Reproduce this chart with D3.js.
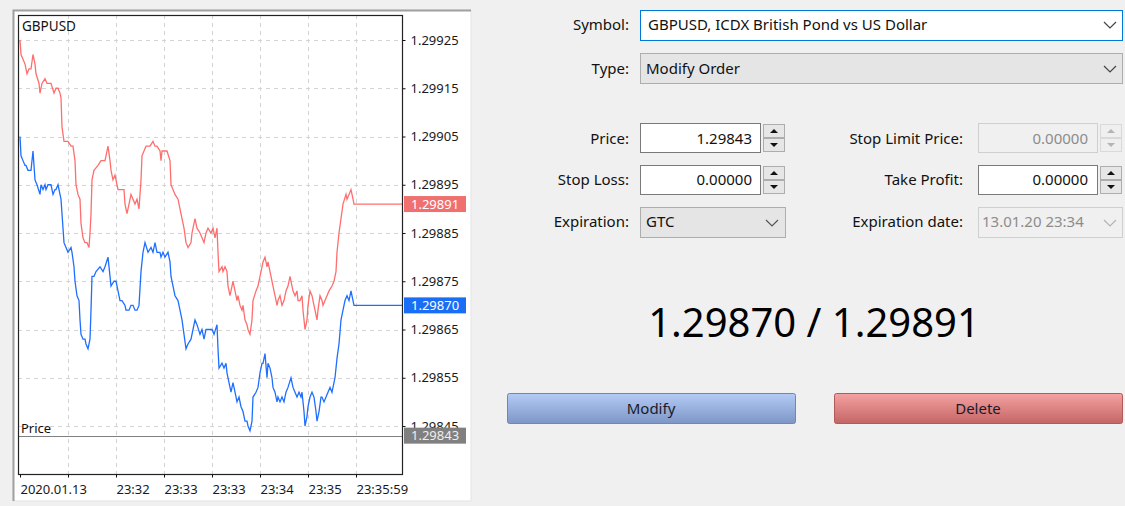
<!DOCTYPE html>
<html>
<head>
<meta charset="utf-8">
<script src="https://cdn.jsdelivr.net/npm/d3@7"></script>
<style>
  body { margin: 0; background: #f0f0f0; }
  svg { display: block; font-family: 'Noto Sans', sans-serif; }
</style>
</head>
<body>
<svg id="drawing_region"></svg>
<script>
// ask ticks (red) : [tick index, price]
const askTicks = [
  [0,1.29925],[1,1.29922],[3,1.29921],[5,1.29920],[7,1.29918],[9,1.29919],[11,1.29919],[13,1.29922],[15,1.29920],[16,1.29918],
  [19,1.29916],[20,1.29914],[22,1.29916],[25,1.29917],[27,1.29916],[30,1.29916],[31,1.29916],[34,1.29914],[36,1.29915],[38,1.29915],
  [40,1.29914],[41,1.29913],[42,1.29907],[44,1.29904],[48,1.29904],[51,1.29903],[53,1.29903],[55,1.29900],[56,1.29895],[58,1.29893],
  [60,1.29892],[61,1.29887],[63,1.29884],[65,1.29883],[67,1.29883],[69,1.29882],[70,1.29885],[71,1.29889],[72,1.29896],[74,1.29898],
  [78,1.29899],[81,1.29900],[85,1.29900],[86,1.29901],[88,1.29903],[90,1.29900],[91,1.29898],[93,1.29896],[95,1.29897],[96,1.29896],
  [98,1.29894],[101,1.29894],[104,1.29894],[105,1.29891],[107,1.29889],[109,1.29891],[111,1.29893],[113,1.29892],[115,1.29891],[117,1.29892],
  [119,1.29890],[121,1.29896],[122,1.29901],[124,1.29902],[126,1.29903],[130,1.29903],[133,1.29904],[135,1.29903],[137,1.29903],[140,1.29902],
  [141,1.29900],[142,1.29902],[145,1.29902],[147,1.29902],[150,1.29900],[151,1.29895],[153,1.29894],[155,1.29893],[158,1.29892],[160,1.29890],
  [162,1.29888],[164,1.29886],[166,1.29883],[168,1.29882],[171,1.29883],[172,1.29885],[175,1.29888],[177,1.29886],[180,1.29885],[182,1.29884],
  [184,1.29883],[186,1.29885],[188,1.29886],[191,1.29885],[193,1.29886],[195,1.29884],[197,1.29886],[198,1.29881],[199,1.29877],[202,1.29878],
  [203,1.29877],[205,1.29878],[207,1.29877],[208,1.29874],[210,1.29872],[212,1.29874],[213,1.29875],[215,1.29873],[217,1.29871],[218,1.29872],
  [220,1.29870],[222,1.29869],[223,1.29870],[225,1.29867],[227,1.29866],[228,1.29865],[230,1.29864],[232,1.29867],[233,1.29871],[236,1.29873],
  [238,1.29874],[240,1.29876],[242,1.29878],[243,1.29879],[245,1.29880],[247,1.29878],[248,1.29879],[250,1.29877],[252,1.29875],[253,1.29874],
  [255,1.29872],[257,1.29870],[258,1.29871],[260,1.29872],[262,1.29870],[264,1.29871],[266,1.29873],[268,1.29874],[270,1.29876],[272,1.29874],
  [273,1.29873],[275,1.29872],[277,1.29873],[278,1.29871],[280,1.29871],[282,1.29872],[283,1.29869],[285,1.29865],[287,1.29867],[288,1.29870],
  [290,1.29873],[292,1.29872],[293,1.29871],[295,1.29869],[297,1.29867],[298,1.29869],[300,1.29872],[302,1.29871],[303,1.29870],[305,1.29871],
  [307,1.29872],[309,1.29873],[312,1.29874],[314,1.29875],[316,1.29877],[317,1.29881],[319,1.29885],[321,1.29888],[323,1.29891],[326,1.29893],
  [327,1.29892],[329,1.29893],[331,1.29894],[333,1.29892],[334,1.29891],[382,1.29891]
];

// bid ticks (blue) : [tick index, price]
const bidTicks = [
  [0,1.29905],[1,1.29901],[3,1.29900],[5,1.29899],[6,1.29899],[8,1.29898],[10,1.29898],[11,1.29898],[13,1.29902],[14,1.29899],
  [15,1.29896],[17,1.29895],[20,1.29893],[21,1.29895],[23,1.29894],[25,1.29895],[26,1.29894],[28,1.29895],[30,1.29895],[31,1.29895],
  [33,1.29893],[35,1.29894],[36,1.29894],[38,1.29895],[40,1.29893],[41,1.29892],[43,1.29886],[44,1.29883],[46,1.29882],[48,1.29881],
  [51,1.29882],[52,1.29881],[54,1.29878],[55,1.29875],[57,1.29872],[59,1.29871],[60,1.29867],[61,1.29864],[63,1.29863],[65,1.29863],
  [66,1.29862],[68,1.29861],[70,1.29863],[71,1.29869],[72,1.29876],[74,1.29876],[76,1.29877],[80,1.29878],[83,1.29877],[85,1.29878],
  [88,1.29880],[90,1.29876],[91,1.29874],[94,1.29875],[96,1.29875],[98,1.29873],[100,1.29871],[102,1.29871],[105,1.29870],[106,1.29869],
  [109,1.29869],[111,1.29870],[113,1.29870],[115,1.29869],[117,1.29869],[119,1.29870],[121,1.29877],[123,1.29881],[125,1.29883],[128,1.29881],
  [131,1.29882],[133,1.29881],[135,1.29883],[137,1.29881],[140,1.29881],[141,1.29880],[143,1.29881],[145,1.29880],[148,1.29881],[150,1.29879],
  [151,1.29876],[153,1.29874],[155,1.29872],[158,1.29871],[160,1.29869],[162,1.29867],[164,1.29864],[166,1.29861],[168,1.29862],[171,1.29863],
  [173,1.29865],[175,1.29867],[177,1.29866],[180,1.29864],[182,1.29865],[184,1.29863],[186,1.29865],[188,1.29865],[190,1.29865],[192,1.29865],
  [194,1.29864],[197,1.29866],[198,1.29861],[199,1.29857],[202,1.29858],[204,1.29857],[206,1.29858],[207,1.29856],[209,1.29854],[211,1.29852],
  [213,1.29854],[215,1.29852],[217,1.29850],[219,1.29851],[221,1.29849],[223,1.29848],[225,1.29846],[227,1.29846],[228,1.29845],[230,1.29844],
  [232,1.29846],[233,1.29851],[236,1.29852],[238,1.29853],[240,1.29856],[242,1.29858],[243,1.29858],[245,1.29860],[247,1.29855],[248,1.29858],
  [250,1.29857],[252,1.29855],[253,1.29853],[255,1.29852],[257,1.29850],[258,1.29851],[260,1.29850],[262,1.29851],[264,1.29850],[266,1.29852],
  [268,1.29853],[271,1.29855],[273,1.29853],[275,1.29852],[277,1.29851],[279,1.29852],[281,1.29851],[282,1.29852],[284,1.29848],[285,1.29845],
  [287,1.29847],[288,1.29849],[290,1.29851],[292,1.29852],[294,1.29851],[296,1.29848],[297,1.29846],[299,1.29848],[301,1.29851],[302,1.29851],
  [304,1.29850],[306,1.29851],[308,1.29852],[310,1.29853],[312,1.29852],[313,1.29853],[315,1.29855],[317,1.29859],[319,1.29862],[321,1.29867],
  [323,1.29869],[325,1.29871],[327,1.29872],[329,1.29871],[331,1.29873],[333,1.29871],[334,1.29870],[382,1.29870]
];

const lastAsk = 1.29891;
const lastBid = 1.29870;
const orderPrice = 1.29843;

const priceTicks = [1.29925, 1.29915, 1.29905, 1.29895, 1.29885, 1.29875, 1.29865, 1.29855, 1.29845];
const timeTicks = [0, 48, 96, 144, 192, 240, 288, 336];
const timeLabels = ['2020.01.13', '', '23:32', '23:33', '23:33', '23:34', '23:35', '23:35:59'];

const W = 1125, H = 506;
const svg = d3.select('#drawing_region').attr('width', W).attr('height', H);
svg.append('rect').attr('width', W).attr('height', H).attr('fill', '#f0f0f0');

class TickChart {

    constructor( config ) {
        this.config = config;
        this.init();
    }

    init() {
        let self = this;
        const c = self.config;

        self.g = svg.append('g');

        // chart window
        self.g.append('rect')
            .attr('x', 13).attr('y', 10).attr('width', 458).attr('height', 491)
            .attr('fill', '#fff').attr('stroke', '#e3e3e3');
        self.g.append('path')
            .attr('d', 'M13.5,501V10.5H471')
            .attr('fill', 'none').attr('stroke', '#a0a0a0').attr('stroke-width', 2);

        self.xscale = d3.scaleLinear()
            .domain( [0, 382] )
            .range( [c.left + 2, c.right] );

        self.yscale = d3.scaleLinear()
            .domain( [1.29845, 1.29925] )
            .range( [426, 40] );

        self.clip = self.g.append('clipPath').attr('id', 'plot_clip')
            .append('rect')
            .attr('x', c.left).attr('y', c.top)
            .attr('width', c.right - c.left).attr('height', c.bottom - c.top);
    }

    render() {
        let self = this;
        const c = self.config;
        const fmt = d3.format('.5f');

        // grid
        self.g.append('g').selectAll('line')
            .data(priceTicks)
            .join('line')
            .attr('x1', c.left).attr('x2', c.right)
            .attr('y1', d => Math.round(self.yscale(d)) + 0.5)
            .attr('y2', d => Math.round(self.yscale(d)) + 0.5)
            .attr('stroke', '#d4d4d4').attr('stroke-dasharray', '4,4');

        self.g.append('g').selectAll('line')
            .data(timeTicks.slice(1))
            .join('line')
            .attr('x1', d => Math.round(self.xscale(d)) + 0.5)
            .attr('x2', d => Math.round(self.xscale(d)) + 0.5)
            .attr('y1', c.top).attr('y2', c.bottom)
            .attr('stroke', '#d4d4d4').attr('stroke-dasharray', '4,4');

        // order price line
        const py = Math.round(self.yscale(orderPrice)) + 0.5;
        self.g.append('line')
            .attr('x1', c.left).attr('x2', c.right)
            .attr('y1', py).attr('y2', py)
            .attr('stroke', '#808080');
        self.g.append('text')
            .attr('x', 21).attr('y', py - 4)
            .attr('font-size', 13).attr('fill', '#111')
            .text('Price');

        // ask / bid lines
        const line = d3.line()
            .x( d => self.xscale(d[0]) )
            .y( d => self.yscale(d[1]) );

        const lines = self.g.append('g').attr('clip-path', 'url(#plot_clip)');
        lines.append('path').datum(askTicks)
            .attr('d', line).attr('fill', 'none')
            .attr('stroke', '#ff6e6e').attr('stroke-width', 1.3);
        lines.append('path').datum(bidTicks)
            .attr('d', line).attr('fill', 'none')
            .attr('stroke', '#1f6fff').attr('stroke-width', 1.3);

        // frame
        self.g.append('rect')
            .attr('x', c.left + 0.5).attr('y', c.top + 0.5)
            .attr('width', c.right - c.left).attr('height', c.bottom - c.top)
            .attr('fill', 'none').attr('stroke', '#222').attr('stroke-width', 1.2);

        self.g.append('text')
            .attr('x', 22).attr('y', 31)
            .attr('font-size', 13.5).attr('fill', '#111')
            .text(c.title);

        // axes
        const yaxis = d3.axisRight( self.yscale )
            .tickValues(priceTicks)
            .tickFormat(fmt)
            .tickSize(3)
            .tickPadding(5);

        const xaxis = d3.axisBottom( self.xscale )
            .tickValues(timeTicks)
            .tickFormat( (d, i) => timeLabels[i] )
            .tickSize(3)
            .tickPadding(7);

        const ya = self.g.append('g')
            .attr('transform', `translate(${c.right + 0.5}, 0)`)
            .call(yaxis);
        const xa = self.g.append('g')
            .attr('transform', `translate(0, ${c.bottom + 0.5})`)
            .call(xaxis);

        [ya, xa].forEach(a => {
            a.select('.domain').remove();
            a.attr('font-family', null).attr('font-size', 13);
            a.selectAll('.tick line').attr('stroke', '#111');
            a.selectAll('.tick text').attr('fill', '#1a1a1a');
        });
        xa.selectAll('.tick text').attr('text-anchor', 'start');

        // price tags on the right axis
        const tags = [
            {v: lastAsk, fill: '#f07070', color: '#fff'},
            {v: lastBid, fill: '#1a6ef5', color: '#fff'},
            {v: orderPrice, fill: '#808080', color: '#eee'}
        ];
        const tg = self.g.append('g').selectAll('g')
            .data(tags)
            .join('g')
            .attr('transform', d => `translate(${c.right + 2}, ${self.yscale(d.v)})`);
        tg.append('rect')
            .attr('x', 0).attr('y', -8).attr('width', 62).attr('height', 16)
            .attr('fill', d => d.fill);
        tg.append('text')
            .attr('x', 7).attr('dy', '0.35em')
            .attr('font-size', 13)
            .attr('fill', d => d.color)
            .text(d => fmt(d.v));
    }
}

const chart = new TickChart({ left: 18, top: 15, right: 402, bottom: 474, title: 'GBPUSD' });
chart.render();

// ---- order panel ----
const panel = svg.append('g').attr('font-size', 15);

function box(x, y, w, h, fill, stroke) {
    return panel.append('rect')
        .attr('x', x + 0.5).attr('y', y + 0.5)
        .attr('width', w - 1).attr('height', h - 1)
        .attr('fill', fill).attr('stroke', stroke);
}

function label(text, x, cy, anchor, color) {
    return panel.append('text')
        .attr('x', x).attr('y', cy).attr('dy', '0.36em')
        .attr('text-anchor', anchor || 'end')
        .attr('fill', color || '#111')
        .text(text);
}

function chevron(cx, cy, color) {
    panel.append('path')
        .attr('d', `M${cx - 6},${cy - 3}L${cx},${cy + 3}L${cx + 6},${cy - 3}`)
        .attr('fill', 'none').attr('stroke', color).attr('stroke-width', 1.2);
}

function spinner(x, y, h, enabled) {
    const half = h / 2;
    const col = enabled ? '#111' : '#b4b4b4';
    box(x, y, 22, half, enabled ? '#e6e6e6' : '#efefef', enabled ? '#adadad' : '#d9d9d9');
    box(x, y + half, 22, half, enabled ? '#e6e6e6' : '#efefef', enabled ? '#adadad' : '#d9d9d9');
    const cx = x + 11;
    panel.append('path')
        .attr('d', `M${cx - 4},${y + half / 2 + 2}L${cx},${y + half / 2 - 2}L${cx + 4},${y + half / 2 + 2}Z`)
        .attr('fill', col);
    panel.append('path')
        .attr('d', `M${cx - 4},${y + half * 1.5 - 2}L${cx},${y + half * 1.5 + 2}L${cx + 4},${y + half * 1.5 - 2}Z`)
        .attr('fill', col);
}

// symbol / type combos
label('Symbol:', 629, 25);
box(640, 10, 483, 31, '#fff', '#0078d7');
label('GBPUSD, ICDX British Pond vs US Dollar', 648, 25, 'start');
chevron(1110, 25, '#444');

label('Type:', 629, 69);
box(640, 53, 483, 31, '#e5e5e5', '#adadad');
label('Modify Order', 646, 69, 'start');
chevron(1110, 69, '#444');

// left column
label('Price:', 629, 139);
box(640, 123, 121, 30, '#fff', '#7a7a7a');
label('1.29843', 752, 139);
spinner(763, 124, 28, true);

label('Stop Loss:', 629, 180);
box(640, 165, 121, 30, '#fff', '#7a7a7a');
label('0.00000', 752, 180);
spinner(763, 166, 28, true);

label('Expiration:', 629, 222);
box(640, 207, 146, 31, '#e5e5e5', '#adadad');
label('GTC', 646, 222, 'start');
chevron(772, 223, '#555');

// right column
label('Stop Limit Price:', 963, 139);
box(978, 123, 120, 30, '#f0f0f0', '#cfcfcf');
label('0.00000', 1088, 139, 'end', '#8c8c8c');
spinner(1100, 124, 28, false);

label('Take Profit:', 963, 180);
box(978, 165, 120, 30, '#fff', '#7a7a7a');
label('0.00000', 1088, 180);
spinner(1100, 166, 28, true);

label('Expiration date:', 963, 222);
box(978, 207, 145, 31, '#f0f0f0', '#cfcfcf');
label('13.01.20 23:34', 982, 222, 'start', '#8c8c8c');
chevron(1110, 223, '#b4b4b4');

// bid / ask quote
panel.append('text')
    .attr('x', 814).attr('y', 337)
    .attr('text-anchor', 'middle')
    .attr('font-size', 40).attr('fill', '#000')
    .text(`${d3.format('.5f')(lastBid)} / ${d3.format('.5f')(lastAsk)}`);

// buttons
const defs = svg.append('defs');
function grad(id, top, bottom) {
    const lg = defs.append('linearGradient').attr('id', id)
        .attr('x1', 0).attr('y1', 0).attr('x2', 0).attr('y2', 1);
    lg.append('stop').attr('offset', '0%').attr('stop-color', top);
    lg.append('stop').attr('offset', '100%').attr('stop-color', bottom);
}
grad('g_modify', '#b3cbf4', '#7d96c6');
grad('g_delete', '#f5a2a2', '#c46565');

const buttons = [
    {text: 'Modify', x: 507, fill: 'url(#g_modify)', stroke: '#6f87b8'},
    {text: 'Delete', x: 834, fill: 'url(#g_delete)', stroke: '#b05a5a'}
];
buttons.forEach(b => {
    panel.append('rect')
        .attr('x', b.x + 0.5).attr('y', 393.5).attr('width', 288).attr('height', 30)
        .attr('rx', 2)
        .attr('fill', b.fill).attr('stroke', b.stroke);
    label(b.text, b.x + 144, 409, 'middle', '#1a1a2a');
});
</script>
</body>
</html>
